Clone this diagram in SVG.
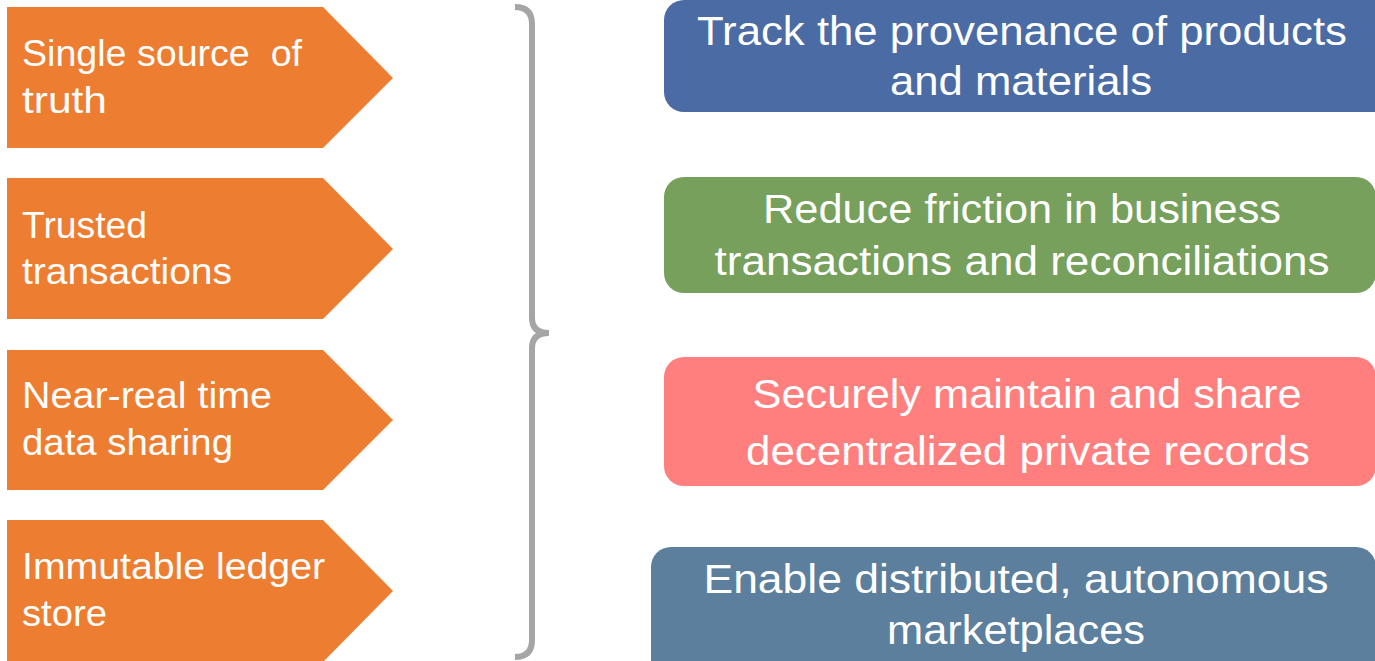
<svg xmlns="http://www.w3.org/2000/svg" width="1375" height="661" viewBox="0 0 1375 661">
<style>
.arrow{fill:#ED7D31}
.lt{font-family:"Liberation Sans",Arial,sans-serif;font-size:36px;fill:#FFFFFF;white-space:pre}
.rt{font-family:"Liberation Sans",Arial,sans-serif;font-size:40px;fill:#FFFFFF;text-anchor:middle}
.brace{fill:none;stroke:#A5A5A5;stroke-width:6}
</style>
<rect width="1375" height="661" fill="#FFFFFF"/>
<g id="arrow1">
<polygon class="arrow" points="7,7 323,7 393,78 323,148 7,148"/>
<text class="lt" x="22" y="66" textLength="280" lengthAdjust="spacingAndGlyphs">Single source  of</text>
<text class="lt" x="22" y="113" textLength="85" lengthAdjust="spacingAndGlyphs">truth</text>
</g>
<g id="arrow2">
<polygon class="arrow" points="7,178 323,178 393,249 323,319 7,319"/>
<text class="lt" x="22" y="238" textLength="125" lengthAdjust="spacingAndGlyphs">Trusted</text>
<text class="lt" x="22" y="284" textLength="210" lengthAdjust="spacingAndGlyphs">transactions</text>
</g>
<g id="arrow3">
<polygon class="arrow" points="7,350 323,350 393,420 323,490 7,490"/>
<text class="lt" x="22" y="408" textLength="250" lengthAdjust="spacingAndGlyphs">Near-real time</text>
<text class="lt" x="22" y="455" textLength="211" lengthAdjust="spacingAndGlyphs">data sharing</text>
</g>
<g id="arrow4">
<polygon class="arrow" points="7,520 323,520 393,591 323,662 7,662"/>
<text class="lt" x="22" y="579" textLength="303" lengthAdjust="spacingAndGlyphs">Immutable ledger</text>
<text class="lt" x="22" y="626" textLength="85" lengthAdjust="spacingAndGlyphs">store</text>
</g>
<g id="connectors">
<path class="brace" d="M515,7 Q532,7 532,24 L532,318 Q532,333 549,333 Q532,333 532,348 L532,640 Q532,657 515,657"/>
</g>
<g id="box1">
<rect x="664" y="0" width="730" height="112" rx="20" fill="#4A6BA4"/>
<text class="rt" x="1022" y="45" textLength="650" lengthAdjust="spacingAndGlyphs">Track the provenance of products</text>
<text class="rt" x="1021" y="95" textLength="262" lengthAdjust="spacingAndGlyphs">and materials</text>
</g>
<g id="box2">
<rect x="664" y="177" width="712" height="116" rx="20" fill="#76A05B"/>
<text class="rt" x="1022" y="223" textLength="518" lengthAdjust="spacingAndGlyphs">Reduce friction in business</text>
<text class="rt" x="1022" y="275" textLength="615" lengthAdjust="spacingAndGlyphs">transactions and reconciliations</text>
</g>
<g id="box3">
<rect x="664" y="357" width="712" height="129" rx="20" fill="#FF7F7E"/>
<text class="rt" x="1027" y="408" textLength="549" lengthAdjust="spacingAndGlyphs">Securely maintain and share</text>
<text class="rt" x="1028" y="465" textLength="564" lengthAdjust="spacingAndGlyphs">decentralized private records</text>
</g>
<g id="box4">
<rect x="651" y="547" width="725" height="134" rx="20" fill="#5B7F9D"/>
<text class="rt" x="1016" y="593" textLength="625" lengthAdjust="spacingAndGlyphs">Enable distributed, autonomous</text>
<text class="rt" x="1016" y="644" textLength="258" lengthAdjust="spacingAndGlyphs">marketplaces</text>
</g>
</svg>
